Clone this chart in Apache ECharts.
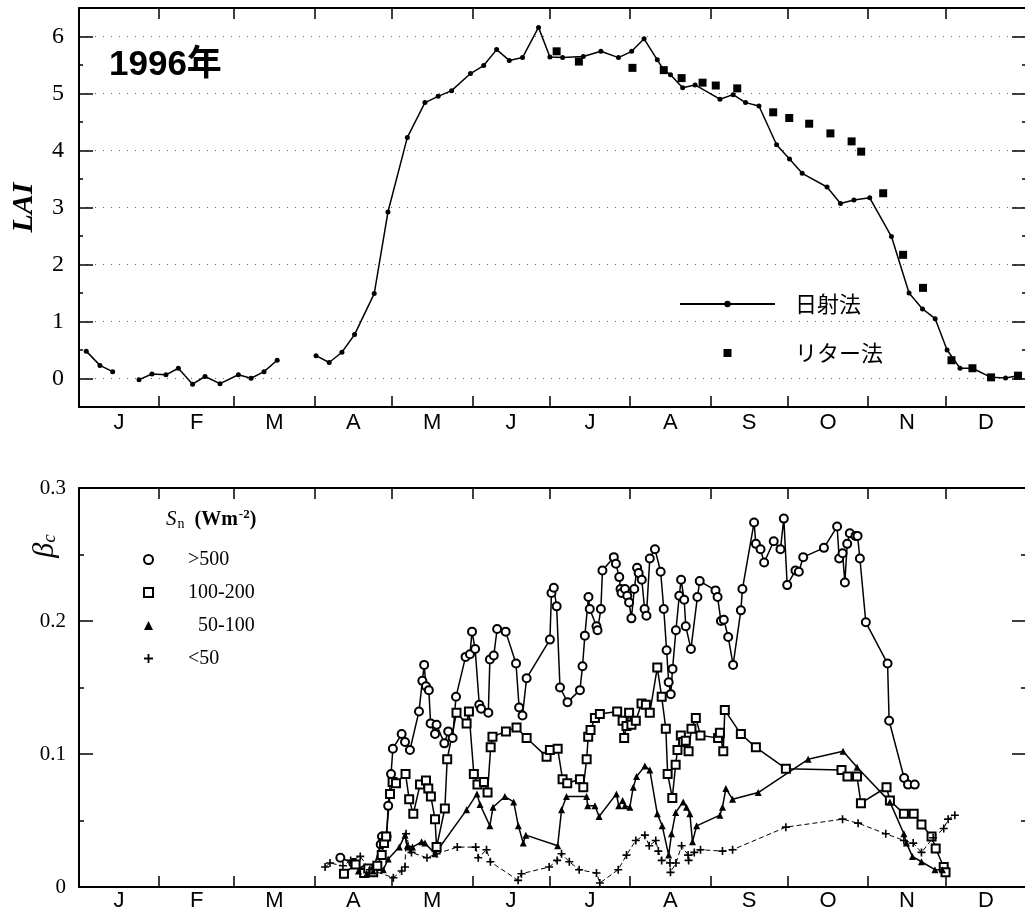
<!DOCTYPE html>
<html>
<head>
<meta charset="utf-8">
<script src="https://cdn.jsdelivr.net/npm/echarts@6/dist/echarts.min.js"></script>
<style>
  html, body { margin: 0; padding: 0; background: #fff; }
  #chart { width: 1025px; height: 911px; }
</style>
</head>
<body>
<div id="chart"></div>
<script>
// x = day of year (0 = 1 Jan), 1996
const monthNames = ['J', 'F', 'M', 'A', 'M', 'J', 'J', 'A', 'S', 'O', 'N', 'D'];
const monthStarts = [0, 31, 60, 91, 121, 152, 182, 213, 244, 274, 305, 335, 366];
const monthMids = [15.5, 45.5, 75.5, 106, 136.5, 167, 197.5, 228.5, 259, 289.5, 320, 350.5];

const laiTicks = [0, 1, 2, 3, 4, 5, 6];
const laiHalfTicks = [0.5, 1.5, 2.5, 3.5, 4.5, 5.5];
const betaTicks = [0, 0.1, 0.2, 0.3];
const betaHalfTicks = [0.05, 0.15, 0.25];

// LAI, 日射法 (three measuring periods)
const laiJan = [[2.8, 0.48], [8.1, 0.23], [13, 0.12]];
const laiWinter = [[23.2, -0.02], [28.2, 0.08], [33.6, 0.065], [38.4, 0.18], [43.9, -0.1], [48.7, 0.035],
  [54.5, -0.09], [61.6, 0.065], [66.5, 0.005], [71.5, 0.12], [76.6, 0.32]];
const laiSeason = [[91.6, 0.40], [96.7, 0.28], [101.6, 0.46], [106.5, 0.77], [114.1, 1.49], [119.4, 2.92],
  [126.9, 4.23], [133.7, 4.84], [138.8, 4.95], [144, 5.05], [151.3, 5.35], [156.4, 5.49], [161.4, 5.77],
  [166.3, 5.58], [171.4, 5.63], [177.6, 6.16], [182, 5.64], [186.9, 5.63], [194.9, 5.65], [201.7, 5.74],
  [208.5, 5.63], [213.6, 5.74], [218.4, 5.96], [223.5, 5.59], [226, 5.41], [228.6, 5.33], [233.3, 5.10],
  [238.1, 5.15], [247.7, 4.90], [252.8, 4.98], [257.6, 4.84], [262.8, 4.78], [269.6, 4.10], [274.6, 3.85],
  [279.5, 3.60], [289.1, 3.36], [294.3, 3.07], [299.5, 3.13], [305.6, 3.17], [314, 2.49], [320.8, 1.50],
  [326, 1.22], [330.9, 1.05], [335.5, 0.50], [340.5, 0.18], [345.3, 0.18], [352.5, 0.02], [358.1, 0.01],
  [362.9, 0.05]];

// LAI, リター法
const laiLitter = [[184.6, 5.74], [193.2, 5.56], [213.9, 5.45], [226, 5.41], [232.9, 5.27], [241, 5.19],
  [246.1, 5.14], [254.4, 5.09], [268.3, 4.67], [274.5, 4.57], [282.2, 4.47], [290.4, 4.30], [298.6, 4.16],
  [302.3, 3.98], [310.8, 3.25], [318.5, 2.17], [326.2, 1.59], [337.2, 0.32], [345.3, 0.18], [352.5, 0.02],
  [362.9, 0.05]];

// beta_c by net radiation class
const betaOver500 = [[101, 0.022], [106, 0.018], [110.5, 0.013], [113.5, 0.012], [116.6, 0.032], [117.1, 0.038],
  [118.9, 0.038], [119.5, 0.061], [120.6, 0.085], [121.3, 0.104], [124.7, 0.115], [126, 0.109], [127.9, 0.103],
  [131.4, 0.132], [132.7, 0.155], [133.4, 0.167], [134.1, 0.151], [135.2, 0.148], [135.9, 0.123], [137.6, 0.115],
  [138.2, 0.122], [141.2, 0.108], [142.7, 0.117], [144.4, 0.112], [145.7, 0.143], [149.4, 0.173], [151.1, 0.175],
  [151.9, 0.192], [153.1, 0.179], [154.7, 0.137], [155.4, 0.134], [158.2, 0.131], [158.8, 0.171], [160.3, 0.174],
  [161.6, 0.194], [164.9, 0.192], [168.9, 0.168], [170.1, 0.135], [171.4, 0.129], [173, 0.157], [182, 0.186],
  [182.6, 0.221], [183.5, 0.225], [184.6, 0.211], [185.9, 0.150], [188.8, 0.139], [193.6, 0.148], [194.6, 0.166],
  [195.5, 0.189], [196.9, 0.218], [197.4, 0.209], [200, 0.196], [200.4, 0.193], [201.7, 0.209], [202.3, 0.238],
  [206.7, 0.248], [207.5, 0.243], [208.8, 0.233], [209.3, 0.224], [209.7, 0.221], [211, 0.224], [211.9, 0.219],
  [212.6, 0.214], [213.5, 0.202], [214.6, 0.224], [215.7, 0.240], [216.3, 0.236], [217.5, 0.231], [218.6, 0.209],
  [219.3, 0.204], [220.6, 0.247], [222.6, 0.254], [224.8, 0.237], [226, 0.209], [227.1, 0.178], [227.9, 0.154],
  [228.7, 0.145], [229.4, 0.164], [230.7, 0.193], [232, 0.219], [232.7, 0.231], [233.9, 0.216], [234.5, 0.196],
  [236.5, 0.179], [239, 0.218], [239.9, 0.230], [246, 0.223], [246.8, 0.218], [248.1, 0.200], [249.2, 0.201],
  [250.9, 0.188], [252.8, 0.167], [255.8, 0.208], [256.4, 0.224], [260.9, 0.274], [261.6, 0.258], [263.4, 0.254],
  [264.8, 0.244], [268.5, 0.260], [271.1, 0.254], [272.4, 0.277], [273.7, 0.227], [276.9, 0.238], [278.2, 0.237],
  [279.9, 0.248], [287.9, 0.255], [293, 0.271], [293.8, 0.247], [295.1, 0.251], [296, 0.229], [296.9, 0.258],
  [297.9, 0.266], [300.1, 0.264], [300.9, 0.264], [301.8, 0.247], [304.1, 0.199], [312.5, 0.168], [313.1, 0.125],
  [318.9, 0.082], [320.4, 0.077], [323, 0.077]];

const beta100to200 = [[102.4, 0.010], [106.9, 0.017], [110.2, 0.0105], [111.8, 0.014], [113.7, 0.011],
  [115.3, 0.016], [117, 0.024], [117.9, 0.033], [118.7, 0.038], [120.2, 0.070], [121.2, 0.079], [122.5, 0.078],
  [126.2, 0.085], [127.6, 0.066], [129.2, 0.055], [131.8, 0.077], [134.1, 0.080], [135, 0.074], [136, 0.068],
  [137.6, 0.051], [138.2, 0.030], [141.4, 0.059], [142.3, 0.096], [145.9, 0.131], [149.8, 0.123], [150.7, 0.132],
  [152.6, 0.085], [154, 0.077], [156.5, 0.079], [157.9, 0.071], [159.1, 0.105], [159.8, 0.113], [165, 0.117],
  [169.1, 0.120], [173, 0.112], [180.7, 0.098], [182, 0.103], [185, 0.104], [186.9, 0.081], [188.7, 0.078],
  [193.6, 0.081], [194.9, 0.075], [196.2, 0.096], [196.8, 0.113], [197.7, 0.118], [199.4, 0.127], [201.3, 0.130],
  [208, 0.132], [210.1, 0.125], [210.7, 0.112], [211.6, 0.121], [212.6, 0.131], [213.5, 0.122], [215.2, 0.125],
  [217.4, 0.138], [219.1, 0.137], [220.6, 0.131], [223.5, 0.165], [225.2, 0.143], [226.8, 0.119], [227.5, 0.085],
  [229.3, 0.067], [230.6, 0.092], [231.3, 0.103], [232.6, 0.114], [233.5, 0.109], [234.5, 0.110], [235.6, 0.102],
  [236.7, 0.119], [238.4, 0.127], [240.2, 0.114], [247, 0.112], [247.7, 0.116], [249, 0.102], [249.6, 0.133],
  [255.8, 0.115], [261.6, 0.105], [273.2, 0.089], [294.7, 0.088], [297, 0.083], [300.7, 0.083], [302.2, 0.063],
  [312.1, 0.075], [313.4, 0.065], [318.8, 0.055], [322.6, 0.055], [325.6, 0.047], [329.5, 0.038], [331.1, 0.029],
  [334.2, 0.015], [334.9, 0.011]];

const beta50to100 = [[108, 0.012], [111.2, 0.010], [113.7, 0.012], [117.6, 0.013], [119.5, 0.021], [123.8, 0.030],
  [126, 0.039], [126.9, 0.031], [128.9, 0.030], [132.4, 0.034], [133.7, 0.033], [137.6, 0.025], [149.8, 0.058],
  [153.8, 0.070], [155, 0.062], [158.8, 0.046], [160, 0.060], [164.6, 0.068], [168, 0.064], [169.8, 0.046],
  [171.7, 0.033], [172.7, 0.039], [185, 0.031], [186.5, 0.058], [188.4, 0.068], [196.2, 0.068], [196.6, 0.061],
  [199.4, 0.061], [201, 0.053], [207.7, 0.070], [208.6, 0.061], [210.1, 0.065], [211, 0.061], [212.9, 0.060],
  [214.2, 0.075], [215.5, 0.083], [218.7, 0.091], [220.6, 0.088], [223.5, 0.055], [225.4, 0.046], [227.9, 0.024],
  [229, 0.040], [230.6, 0.056], [233.5, 0.064], [234.8, 0.060], [236.1, 0.055], [237.1, 0.034], [238.7, 0.046],
  [247.7, 0.054], [248.7, 0.060], [250, 0.074], [252.6, 0.066], [262.5, 0.071], [281.8, 0.096], [295.3, 0.102],
  [300.7, 0.090], [313.4, 0.064], [318.8, 0.040], [319.8, 0.033], [322.1, 0.023], [325.6, 0.019], [330.8, 0.013],
  [333.7, 0.013]];

const betaUnder50 = [[95.1, 0.015], [97, 0.018], [102, 0.016], [105, 0.020], [108.7, 0.023], [112.4, 0.013],
  [121.5, 0.007], [124.7, 0.012], [126, 0.015], [126.4, 0.040], [127.9, 0.028], [128.5, 0.026], [134.5, 0.022],
  [138.2, 0.025], [146.2, 0.030], [153.3, 0.030], [154.3, 0.022], [157.5, 0.028], [159, 0.019], [169.7, 0.005],
  [171, 0.010], [181.7, 0.015], [184.8, 0.020], [186.5, 0.025], [189.5, 0.019], [193.3, 0.013], [200, 0.0105],
  [201.3, 0.003], [208.4, 0.013], [211.6, 0.024], [215.2, 0.035], [218.7, 0.039], [220.4, 0.031], [222.9, 0.035],
  [223.9, 0.027], [225.2, 0.020], [228.4, 0.018], [228.6, 0.011], [230.7, 0.018], [232.9, 0.031], [235.4, 0.024],
  [235.6, 0.020], [237.8, 0.026], [240.2, 0.028], [248.7, 0.027], [252.6, 0.028], [273.2, 0.045], [295.1, 0.051],
  [301.1, 0.048], [311.8, 0.040], [318.8, 0.035], [322.4, 0.033], [325.6, 0.026], [330.1, 0.037], [334.2, 0.044],
  [335.9, 0.051], [338.5, 0.054]];

const plusSymbol = 'path://M4,0H6V4H10V6H6V10H4V6H0V4H4Z';
const squareIcon = 'path://M0,0H10V10H0Z';
const serif = "'Liberation Serif', 'Times New Roman', serif";
const sans = "'Liberation Sans', Arial, sans-serif";

// break the LAI line where there was no measurement
const laiData = laiJan.concat([[18, '-']], laiWinter, [[84, '-']], laiSeason);

function monthLabel(v) {
  let best = 0;
  for (let i = 1; i < monthMids.length; i++) {
    if (Math.abs(monthMids[i] - v) < Math.abs(monthMids[best] - v)) best = i;
  }
  return monthNames[best];
}

function monthAxis(grid, pos, labelMargin) {
  return {
    type: 'value', gridIndex: grid, position: pos, min: 0, max: 366,
    axisLine: { show: true, onZero: false, lineStyle: { color: '#000', width: 2 } },
    axisTick: { show: true, inside: true, length: 11, customValues: monthStarts,
      lineStyle: { color: '#000', width: 1.5 } },
    axisLabel: { show: pos === 'bottom', customValues: monthMids, formatter: monthLabel,
      color: '#000', fontFamily: sans, fontSize: 22, margin: labelMargin },
    splitLine: { show: false }
  };
}

function valueAxis(grid, pos, min, max, ticks, tickLen, extra) {
  return Object.assign({
    type: 'value', gridIndex: grid, position: pos, min: min, max: max,
    axisLine: { show: false, onZero: false },
    axisTick: { show: true, inside: true, length: tickLen, customValues: ticks,
      lineStyle: { color: '#000', width: 1.5 } },
    axisLabel: { show: false },
    splitLine: { show: false }
  }, extra || {});
}

const chart = echarts.init(document.getElementById('chart'));

chart.setOption({
  animation: false,
  backgroundColor: '#fff',
  grid: [
    { left: 79, top: 8, width: 947, height: 399, outerBoundsMode: 'none' },
    { left: 79, top: 488, width: 947, height: 399, outerBoundsMode: 'none' }
  ],
  xAxis: [
    monthAxis(0, 'bottom', 5),
    monthAxis(0, 'top', 5),
    monthAxis(1, 'bottom', 3),
    monthAxis(1, 'top', 3)
  ],
  yAxis: [
    valueAxis(0, 'left', -0.5, 6.5, laiTicks, 14, {
      axisLine: { show: true, onZero: false, lineStyle: { color: '#000', width: 2 } },
      axisLabel: { show: true, customValues: laiTicks, color: '#000', fontFamily: serif, fontSize: 24, margin: 15 },
      splitLine: { show: true, lineStyle: { color: '#666', width: 1, type: [1, 7] } },
      name: 'LAI', nameLocation: 'middle', nameGap: 40,
      nameTextStyle: { color: '#000', fontFamily: serif, fontStyle: 'italic', fontWeight: 'bold', fontSize: 30 }
    }),
    valueAxis(0, 'left', -0.5, 6.5, laiHalfTicks, 4),
    valueAxis(0, 'right', -0.5, 6.5, laiTicks, 14, {
      axisLine: { show: true, onZero: false, lineStyle: { color: '#000', width: 2 } }
    }),
    valueAxis(0, 'right', -0.5, 6.5, laiHalfTicks, 4),
    valueAxis(1, 'left', 0, 0.3, betaTicks, 14, {
      axisLine: { show: true, onZero: false, lineStyle: { color: '#000', width: 2 } },
      axisLabel: { show: true, customValues: betaTicks, color: '#000', fontFamily: serif, fontSize: 21, margin: 13 }
    }),
    valueAxis(1, 'left', 0, 0.3, betaHalfTicks, 5),
    valueAxis(1, 'right', 0, 0.3, betaTicks, 14, {
      axisLine: { show: true, onZero: false, lineStyle: { color: '#000', width: 2 } }
    }),
    valueAxis(1, 'right', 0, 0.3, betaHalfTicks, 5)
  ],
  legend: [
    {
      data: ['日射法', { name: 'リター法', icon: squareIcon }],
      orient: 'vertical', left: 674, top: 288,
      itemWidth: 95, itemHeight: 8, itemGap: 27,
      symbolKeepAspect: true,
      selectedMode: false,
      textStyle: { color: '#000', fontFamily: "'Noto Sans CJK JP'", fontSize: 22, padding: [0, 0, 0, 15] }
    },
    {
      data: [
        { name: '>500', icon: 'emptyCircle' },
        { name: '100-200', icon: 'emptyRect' },
        { name: '50-100', icon: 'triangle' },
        { name: '<50', icon: plusSymbol }
      ],
      orient: 'vertical', left: 138, top: 544,
      itemWidth: 9, itemHeight: 9, itemGap: 12,
      selectedMode: false,
      formatter: name => name === '50-100' ? '  50-100' : name,
      textStyle: { color: '#000', fontFamily: serif, fontSize: 20, lineHeight: 21, padding: [0, 0, 0, 30] }
    }
  ],
  graphic: [
    {
      type: 'text', left: 109, top: 48,
      style: { text: '1996年', fill: '#000', font: "bold 35px 'Liberation Sans', 'Noto Sans CJK JP', sans-serif" }
    },
    {
      type: 'text', x: 45, y: 546, rotation: Math.PI / 2,
      style: {
        text: '{b|β}{s|c}', align: 'center', verticalAlign: 'middle',
        rich: {
          b: { fontFamily: serif, fontStyle: 'italic', fontSize: 30, fill: '#000' },
          s: { fontFamily: serif, fontStyle: 'italic', fontSize: 19, fill: '#000', padding: [10, 0, 0, 0] }
        }
      }
    },
    {
      type: 'text', left: 166, top: 508,
      style: {
        text: '{s|S}{n|n}{t|  (Wm}{e|-2}{t|)}',
        rich: {
          s: { fontFamily: serif, fontStyle: 'italic', fontSize: 21, fill: '#000' },
          n: { fontFamily: serif, fontSize: 14, fill: '#000', padding: [10, 0, 0, 1] },
          t: { fontFamily: serif, fontWeight: 'bold', fontSize: 20, fill: '#000' },
          e: { fontFamily: serif, fontWeight: 'bold', fontSize: 13, fill: '#000', padding: [0, 0, 10, 1] }
        }
      }
    }
  ],
  series: [
    {
      name: '日射法', type: 'line', xAxisIndex: 0, yAxisIndex: 0, data: laiData,
      symbol: 'circle', symbolSize: 5, connectNulls: false,
      itemStyle: { color: '#000' }, lineStyle: { color: '#000', width: 1.5 }
    },
    {
      name: 'リター法', type: 'scatter', xAxisIndex: 0, yAxisIndex: 0, data: laiLitter,
      symbol: 'rect', symbolSize: 8, itemStyle: { color: '#000', opacity: 1 }
    },
    {
      name: '>500', type: 'line', xAxisIndex: 2, yAxisIndex: 4, data: betaOver500,
      symbol: 'emptyCircle', symbolSize: 8,
      itemStyle: { color: '#000', borderColor: '#000', borderWidth: 1.5 },
      lineStyle: { color: '#000', width: 1.5 }
    },
    {
      name: '100-200', type: 'line', xAxisIndex: 2, yAxisIndex: 4, data: beta100to200,
      symbol: 'emptyRect', symbolSize: 8,
      itemStyle: { color: '#000', borderColor: '#000', borderWidth: 1.5 },
      lineStyle: { color: '#000', width: 1.5 }
    },
    {
      name: '50-100', type: 'line', xAxisIndex: 2, yAxisIndex: 4, data: beta50to100,
      symbol: 'triangle', symbolSize: 7,
      itemStyle: { color: '#000' },
      lineStyle: { color: '#000', width: 1.5 }
    },
    {
      name: '<50', type: 'line', xAxisIndex: 2, yAxisIndex: 4, data: betaUnder50,
      symbol: plusSymbol, symbolSize: 8,
      itemStyle: { color: '#000' },
      lineStyle: { color: '#000', width: 1, type: [5, 3] }
    }
  ]
});
</script>
</body>
</html>
